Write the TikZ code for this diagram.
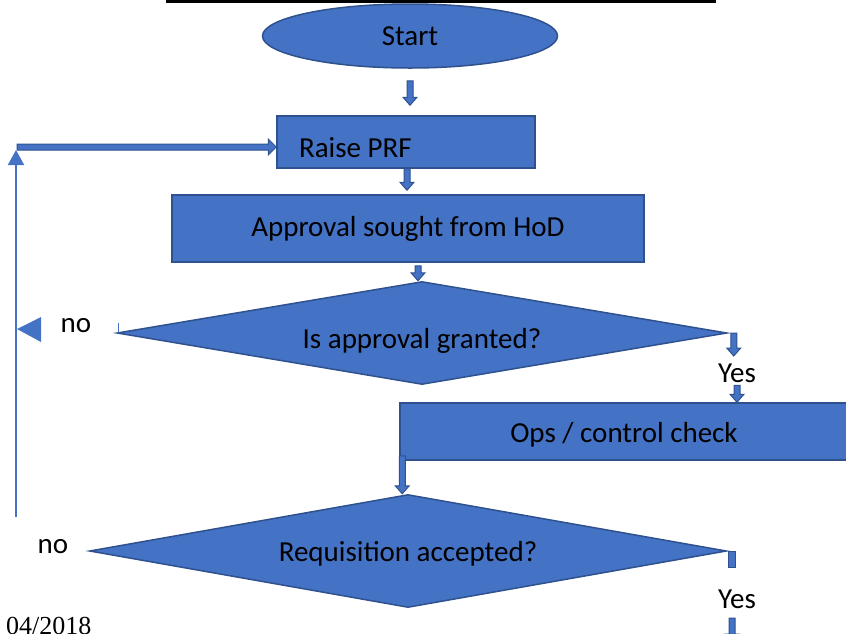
\documentclass[tikz,border=0pt]{standalone}
\usepackage{fontspec}
\setmainfont{Carlito}
\newfontfamily\datefont{Liberation Serif}
\usetikzlibrary{shapes.geometric,calc,arrows.meta}
\definecolor{boxfill}{HTML}{4472C4}
\definecolor{boxline}{HTML}{2F528F}

% downward block arrow from #1 (tail) to #2 (tip)
\newcommand\blockdown[2]{%
  \draw[arrowshape] let \p1=(#1), \p2=(#2) in
    (\x1-3pt,\y1) -- (\x1+3pt,\y1) -- (\x1+3pt,\y2+8pt) -- (\x1+7pt,\y2+8pt)
    -- (\x1,\y2) -- (\x1-7pt,\y2+8pt) -- (\x1-3pt,\y2+8pt) -- cycle;}
% rightward block arrow from #1 (tail) to #2 (tip)
\newcommand\blockright[2]{%
  \draw[arrowshape] let \p1=(#1), \p2=(#2) in
    (\x1,\y1+3pt) -- (\x2-8pt,\y1+3pt) -- (\x2-8pt,\y1+8pt) -- (\x2,\y1)
    -- (\x2-8pt,\y1-8pt) -- (\x2-8pt,\y1-3pt) -- (\x1,\y1-3pt) -- cycle;}

\begin{document}
\begin{tikzpicture}[x=1pt,y=-1pt,
  every node/.style={font=\fontsize{29}{34}\selectfont, text=black},
  box/.style={draw=boxline, fill=boxfill, line width=1.5pt, inner sep=0pt},
  decision/.style={box, diamond, aspect=6},
  arrowshape/.style={draw=boxline, fill=boxfill, line width=1pt, line join=miter},
  loopline/.style={draw=boxfill, line width=2pt},
  datestyle/.style={font=\datefont\fontsize{26}{30}\selectfont, inner sep=0pt, anchor=north west}]
\useasboundingbox (0,0) rectangle (846,633);

% title rule
\draw[line width=3pt] (166,1.5) -- (716,1.5);

% process nodes
\node[box, ellipse, minimum width=295, minimum height=64] (start) at (410,36) {Start};
\node[box, minimum width=258, minimum height=52, inner xsep=22pt,
      text height=36pt, text depth=6pt] (prf) at (406,142)
      {\makebox[214pt][l]{Raise PRF}};
\node[box, minimum width=472, minimum height=67] (hod) at (408,228.5) {Approval sought from HoD};
\node[decision, minimum width=610, minimum height=103,
      text height=36pt, text depth=6pt] (q1) at (422,333) {Is approval granted?};
\node[box, minimum width=448, minimum height=57,
      text height=27pt, text depth=6pt] (ops) at (624,431.5) {Ops / control check};
\node[decision, minimum width=637, minimum height=113,
      text height=26pt, text depth=6pt] (q2) at (408,551) {Requisition accepted?};

% branch labels
\node (no1) at (76,326) {no};
\node (yes1) at (737,373) {Yes};
\node (no2) at (53,547) {no};
\node (yes2) at (737,599) {Yes};
\node[datestyle] (date) at (6,617) {04/2018};

% arrow end points
\coordinate (a1s) at ($(start.south)+(0,12)$);
\coordinate (a1e) at ($(prf.north)+(4,-10)$);
\coordinate (a2s) at ($(prf.south)+(1,0)$);
\coordinate (a2e) at ($(hod.north)+(-1,-4)$);
\coordinate (a3s) at ($(hod.south)+(10,3)$);
\coordinate (a3e) at ($(q1.north)+(-4,0)$);
\coordinate (a4s) at ($(q1.east)+(6,0)$);
\coordinate (a4e) at ($(q1.east)+(6,23)$);
\coordinate (a5s) at ($(ops.north)+(113,-17)$);
\coordinate (a5e) at ($(ops.north)+(113,0)$);
\coordinate (a6s) at ($(ops.south west)+(3,-5)$);
\coordinate (a6e) at ($(q2.north)+(-5,0)$);
\coordinate (a7s) at (732,618);
\coordinate (a7e) at (732,642);

\blockdown{a1s}{a1e}
\blockdown{a2s}{a2e}
\blockdown{a3s}{a3e}
\blockdown{a4s}{a4e}
\blockdown{a5s}{a5e}
\blockdown{a6s}{a6e}
\blockdown{a7s}{a7e}

% stub under the right tip of the second decision
\draw[arrowshape] ($(q2.east)+(1.5,0)$) rectangle ++(7,16);

% tick at the left tip of the first decision
\draw[loopline, line width=1.5pt] ($(q1.west)+(2,0)$) -- ++(0,-10);

% arrowhead beside the first "no"
\fill[boxfill] (17,329) -- (41,317) -- (41,342) -- cycle;

% loop back to Raise PRF
\coordinate (loopbot) at (16,517);
\coordinate (looptop) at (16,150);
\coordinate (loopcorner) at (17,147);
\draw[loopline, -{Triangle[width=16pt,length=15pt]}] (loopbot) -- (looptop);
\blockright{loopcorner}{prf.west |- loopcorner}
\end{tikzpicture}
\end{document}
